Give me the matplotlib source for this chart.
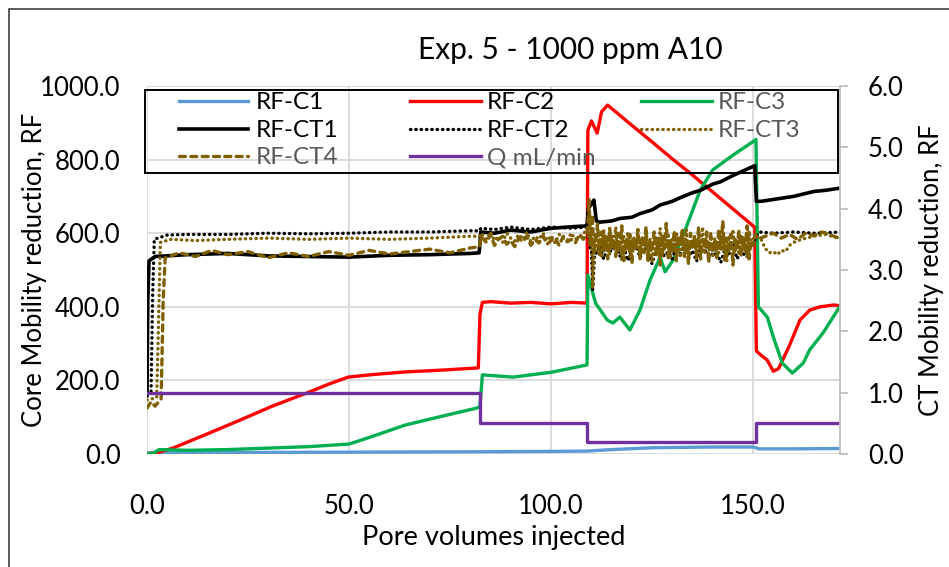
import numpy as np
import matplotlib
matplotlib.use("Agg")
import matplotlib.pyplot as plt
from matplotlib.patches import Rectangle
from matplotlib.lines import Line2D

plt.rcParams['font.family'] = ['Lato', 'DejaVu Sans']

# ---------------- data ----------------
# Core (left axis)
c1_x = [0, 20, 50, 80, 100, 109, 115, 125, 140, 150, 151.5, 160, 172]
c1_y = [3, 4, 5, 6, 7, 8, 12, 17, 19, 19, 14, 14, 15]

c2_x = [0, 3, 6.4, 15, 23, 31, 39.6, 45, 49.8, 56, 64, 73, 82, 82.4, 83, 85, 90, 95,
        100, 105, 108.9, 109.1, 110, 111.4, 112.5, 114, 120, 125, 130, 135, 140, 145,
        150.4, 150.8, 152, 153.5, 155, 156.3, 158.8, 161.6, 164, 166.6, 170, 172]
c2_y = [0, 5, 16, 55, 92, 130, 166, 190, 209, 216, 223, 228, 234, 380, 412, 414, 410, 412,
        408, 412, 410, 880, 905, 872, 930, 948, 893, 848, 802, 758, 712, 666,
        616, 280, 268, 255, 225, 232, 290, 364, 391, 400, 405, 402]

c3_x = [0, 1.5, 3, 10, 20, 30, 40, 50, 55, 64, 72, 81.7, 82.4, 83, 90.6, 100, 108.9,
        109.1, 111, 113.9, 115.3, 117, 119.5, 122, 124.5, 127, 128.2, 130.2, 133.2,
        136.9, 140, 145, 150.4, 150.7, 151.3, 153.5, 155, 157.2, 159.7, 162.4, 164,
        167.3, 172]
c3_y = [0, 2, 12, 10, 12, 16, 20, 27, 45, 79, 100, 125, 130, 215, 209, 222, 242,
        486, 410, 364, 356, 372, 337, 391, 473, 535, 495, 527, 609,
        717, 772, 812, 852, 855, 400, 372, 318, 247, 220, 247, 283,
        329, 410]

# CT (right axis)
ct1_x = [0, 0.2, 0.5, 2, 10, 20, 30, 40, 50, 60, 70, 80, 82.2, 82.6, 86, 90, 95, 100,
         104, 108.9, 109.2, 110, 110.6, 111.2, 112, 115, 117, 120, 122, 125, 127, 130,
         132, 135, 137, 140, 142, 145, 147, 150.4, 150.8, 152, 156, 160, 165, 168, 172]
ct1_y = [0.95, 2.5, 3.15, 3.22, 3.25, 3.27, 3.23, 3.22, 3.21, 3.24, 3.25, 3.27, 3.28, 3.62,
         3.60, 3.65, 3.62, 3.68, 3.70, 3.72, 4.0, 4.08, 4.14, 3.8, 3.78, 3.8, 3.84, 3.86,
         3.92, 3.98, 4.06, 4.12, 4.18, 4.26, 4.30, 4.40, 4.44, 4.54, 4.60, 4.70, 4.12,
         4.12, 4.16, 4.20, 4.28, 4.30, 4.34]

ct2_x = [0, 1.0, 1.4, 1.8, 5, 10, 20, 30, 40, 50, 60, 70, 80, 82.3, 82.6, 86, 90, 95,
         100, 105, 108.8, 109.5, 110.0, 110.3, 110.5, 110.8]
ct2_y = [1.0, 1.0, 2.6, 3.5, 3.57, 3.58, 3.58, 3.60, 3.59, 3.60, 3.62, 3.62, 3.64, 3.64,
         3.68, 3.66, 3.70, 3.66, 3.70, 3.68, 3.70, 3.4, 3.3, 2.68, 2.9, 3.3]
ct2_noise = [3.25, 3.40, 3.18, 3.35, 3.30, 3.45, 3.22, 3.38, 3.15, 3.32, 3.42, 3.20, 3.36,
             3.28, 3.10, 3.34, 3.40, 3.22, 3.30, 3.18, 3.38, 3.26, 3.44, 3.20, 3.32, 3.14,
             3.36, 3.28, 3.40, 3.22, 3.30, 3.12, 3.35, 3.26, 3.42, 3.18, 3.30, 3.24, 3.38,
             3.40]  # x = 111, 112, ... step 1
ct2_post_x = [150.8, 151.5, 155, 160, 165, 172]
ct2_post_y = [3.55, 3.62, 3.60, 3.62, 3.60, 3.62]

ct3_x = [0, 2.4, 2.8, 3.3, 6, 12, 20, 30, 40, 50, 60, 70, 80, 82.3, 82.6]
ct3_y = [0.88, 0.92, 2.0, 3.45, 3.50, 3.48, 3.50, 3.52, 3.50, 3.52, 3.50, 3.52, 3.55, 3.55, 3.60]
ct3_mid = [3.58, 3.50, 3.62, 3.48, 3.55, 3.45, 3.60, 3.52, 3.47, 3.58, 3.50, 3.62, 3.46,
           3.55, 3.50, 3.60, 3.48, 3.56, 3.44, 3.58, 3.52, 3.48, 3.60, 3.50, 3.55, 3.58]  # x = 83..108
ct3_spike_x = [109.0, 109.5, 110.0, 110.3, 110.5, 110.8]
ct3_spike_y = [3.70, 3.40, 3.60, 2.70, 3.00, 3.50]
ct3_noise = [3.60, 3.30, 3.52, 3.20, 3.66, 3.38, 3.48, 3.25, 3.58, 3.42,
             3.70, 3.28, 3.46, 3.15, 3.55, 3.35, 3.62, 3.22, 3.50, 3.40,
             3.32, 3.58, 3.18, 3.48, 3.40, 3.64, 3.26, 3.52, 3.12, 3.45,
             3.56, 3.30, 3.68, 3.22, 3.44, 3.36, 3.60, 3.18, 3.50, 3.28,
             3.62, 3.40, 3.20, 3.54, 3.32, 3.66, 3.24, 3.46, 3.38, 3.58,
             3.16, 3.50, 3.42, 3.70, 3.26, 3.48, 3.34, 3.60, 3.20, 3.52,
             3.44, 3.28, 3.62, 3.36, 3.50, 3.14, 3.56, 3.40, 3.66, 3.30,
             3.48, 3.24, 3.58, 3.38, 3.52, 3.20, 3.64, 3.42, 3.50, 3.55]  # x = 111 .. step 0.5
ct3_post_x = [150.8, 152, 153, 154, 155, 156, 157, 158, 159, 160, 162, 165, 168, 172]
ct3_post_y = [3.55, 3.50, 3.35, 3.28, 3.30, 3.25, 3.32, 3.30, 3.40, 3.45, 3.50, 3.55, 3.58, 3.50]

ct4_x = [0, 1, 2, 3.5, 4.0, 4.5, 8, 12, 16, 20, 25, 30, 35, 40, 45, 50, 55, 60, 65, 70,
         75, 80, 82.3, 82.6]
ct4_y = [0.75, 0.85, 0.78, 0.90, 2.5, 3.20, 3.28, 3.22, 3.32, 3.25, 3.30, 3.20, 3.28, 3.22,
         3.30, 3.24, 3.32, 3.26, 3.30, 3.34, 3.28, 3.36, 3.38, 3.55]
ct4_mid = [3.52, 3.45, 3.58, 3.40, 3.50, 3.55, 3.42, 3.48, 3.38, 3.52, 3.46, 3.55, 3.40,
           3.50, 3.44, 3.56, 3.42, 3.48, 3.52, 3.40, 3.55, 3.46, 3.50, 3.44, 3.58, 3.50]  # x = 83..108
ct4_spike_x = [109.0, 109.4, 109.8, 110.2, 110.6]
ct4_spike_y = [3.60, 4.15, 3.40, 3.90, 3.30]
ct4_noise = [3.45, 3.75, 3.25, 3.62, 3.30, 3.55, 3.18, 3.68, 3.35, 3.50,
             3.22, 3.60, 3.40, 3.72, 3.15, 3.48, 3.32, 3.58, 3.10, 3.52,
             3.38, 3.66, 3.20, 3.55, 3.28, 3.70, 3.12, 3.45, 3.36, 3.62,
             3.25, 3.50, 3.08, 3.58, 3.34, 3.76, 3.20, 3.48, 3.30, 3.64,
             3.15, 3.55, 3.42, 3.68, 3.22, 3.46, 3.10, 3.60, 3.35, 3.52,
             3.24, 3.70, 3.18, 3.50, 3.38, 3.62, 3.12, 3.56, 3.30, 3.48,
             3.20, 3.66, 3.34, 3.80, 3.16, 3.52, 3.28, 3.58, 3.08, 3.50,
             3.36, 3.64, 3.22, 3.54, 3.30, 3.72, 3.18, 3.48, 3.40, 3.58]  # x = 111 .. step 0.5
ct4_post_x = [151, 153, 155, 157, 159, 161, 163, 165, 167, 170, 172]
ct4_post_y = [3.50, 3.55, 3.60, 3.52, 3.58, 3.50, 3.60, 3.56, 3.62, 3.55, 3.50]

q_x = [0, 82.4, 109.0, 150.7, 172]
q_y = [1.0, 0.5, 0.2, 0.5, 0.5]

x_ticks = [0, 50, 100, 150]
left_ticks = [0, 200, 400, 600, 800, 1000]
right_ticks = [0, 1, 2, 3, 4, 5, 6]

# ------------- assemble noisy series -------------
def seq(start, step, vals):
    return list(start + step * np.arange(len(vals)))

CT2X = ct2_x + seq(111, 1.0, ct2_noise) + ct2_post_x
CT2Y = ct2_y + ct2_noise + ct2_post_y
CT3X = ct3_x + seq(83, 1.0, ct3_mid) + ct3_spike_x + seq(111, 0.5, ct3_noise) + ct3_post_x
CT3Y = ct3_y + ct3_mid + ct3_spike_y + ct3_noise + ct3_post_y
CT4X = ct4_x + seq(83, 1.0, ct4_mid) + ct4_spike_x + seq(111, 0.5, ct4_noise) + ct4_post_x
CT4Y = ct4_y + ct4_mid + ct4_spike_y + ct4_noise + ct4_post_y

# ---------------- figure ----------------
W, H = 949, 567
fig = plt.figure(figsize=(W / 100, H / 100), dpi=100)
L, R, T, B = 147, 840, 86, 454
ax = fig.add_axes([L / W, 1 - B / H, (R - L) / W, (B - T) / H])
ax2 = ax.twinx()

FS = 18.5
GRAY_TXT = '#595959'
OLIVE = '#7F6000'

lw = 2.4
styles = {
    'RF-C1': dict(color='#5B9BD5', lw=lw),
    'RF-C2': dict(color='#FF0000', lw=lw),
    'RF-C3': dict(color='#00B050', lw=lw),
    'RF-CT1': dict(color='black', lw=2.6),
    'RF-CT2': dict(color='black', lw=2.4, linestyle=(0, (0.1, 1.5)), dash_capstyle='round'),
    'RF-CT3': dict(color=OLIVE, lw=2.4, linestyle=(0, (0.1, 1.5)), dash_capstyle='round'),
    'RF-CT4': dict(color=OLIVE, lw=2.4, linestyle=(0, (1.8, 1.6)), dash_capstyle='round'),
    'Q mL/min': dict(color='#7030A0', lw=lw),
}

ax.plot(c1_x, c1_y, **styles['RF-C1'])
ax.plot(c2_x, c2_y, **styles['RF-C2'])
ax.plot(c3_x, c3_y, **styles['RF-C3'])
ax2.plot(ct1_x, ct1_y, **styles['RF-CT1'])
ax2.plot(CT2X, CT2Y, **styles['RF-CT2'])
ax2.plot(CT4X, CT4Y, **styles['RF-CT4'])
ax2.plot(CT3X, CT3Y, **styles['RF-CT3'])
ax2.plot(q_x, q_y, drawstyle='steps-post', **styles['Q mL/min'])

ax.set_xlim(0, 171.5)
ax.set_ylim(0, 1000)
ax2.set_ylim(0, 6)
ax.set_xticks(x_ticks)
ax.set_yticks(left_ticks)
ax2.set_yticks(right_ticks)
ax.set_xticklabels([f'{v:.1f}' for v in x_ticks])
ax.set_yticklabels([f'{v:.1f}' for v in left_ticks])
ax2.set_yticklabels([f'{v:.1f}' for v in right_ticks])

ax.grid(True, color='#D9D9D9', lw=1.3)
ax.set_axisbelow(True)
for s in ax.spines.values():
    s.set_visible(False)
for k, s in ax2.spines.items():
    s.set_visible(k == 'right')
ax2.spines['right'].set_color('#BFBFBF')
ax2.spines['right'].set_linewidth(1.3)

ax.tick_params(axis='both', length=0, labelsize=FS, colors='black')
ax.tick_params(axis='y', pad=19)
ax.tick_params(axis='x', pad=29)
ax2.tick_params(axis='y', direction='out', length=6, width=1.3, color='#BFBFBF',
                labelsize=FS, pad=14, labelcolor='black')

ax.set_xlabel('Pore volumes injected', fontsize=19.5)
ax.xaxis.set_label_coords(0.5, (B - 525) / (B - T))
ax.set_ylabel('Core Mobility reduction, RF', fontsize=FS)
ax.yaxis.set_label_coords((47 - L) / (R - L), 0.5)
ax2.set_ylabel('CT Mobility reduction, RF', fontsize=FS, rotation=90)
ax2.yaxis.set_label_coords((919 - L) / (R - L), 0.5)

fig.text(570 / W, 1 - 50 / H, 'Exp. 5 - 1000 ppm A10', fontsize=21.5, ha='center', va='center')

# ---------------- legend (drawn manually, pixel layout of the reference) ----------------
def fx(px):
    return px / W

def fy(py):
    return 1 - py / H

legend_rows = [['RF-C1', 'RF-C2', 'RF-C3'],
               ['RF-CT1', 'RF-CT2', 'RF-CT3'],
               ['RF-CT4', 'Q mL/min']]
row_y = [101, 129, 156]
col_handle = [(179, 248), (410, 481), (641, 712)]
col_text = [256, 487, 718]
grey_labels = {'RF-C3', 'RF-CT3', 'RF-CT4', 'Q mL/min'}
for r, names in enumerate(legend_rows):
    for c, name in enumerate(names):
        x0, x1 = col_handle[c]
        fig.add_artist(Line2D([fx(x0), fx(x1)], [fy(row_y[r]), fy(row_y[r])],
                              transform=fig.transFigure, **styles[name]))
        fig.text(fx(col_text[c]), fy(row_y[r]), name, fontsize=17.5, ha='left',
                 va='center_baseline',
                 color=GRAY_TXT if name in grey_labels else 'black')
fig.add_artist(Rectangle((fx(145), fy(173)), (838 - 145) / W, (173 - 90) / H,
                         transform=fig.transFigure, fill=False, edgecolor='black', lw=1.4))

# chart border
fig.add_artist(Rectangle((9 / W, -0.1), 1.2, 1 - 9 / H + 0.1, transform=fig.transFigure,
                         fill=False, edgecolor='#404040', lw=1.2))

fig.savefig('out.png', dpi=100)
